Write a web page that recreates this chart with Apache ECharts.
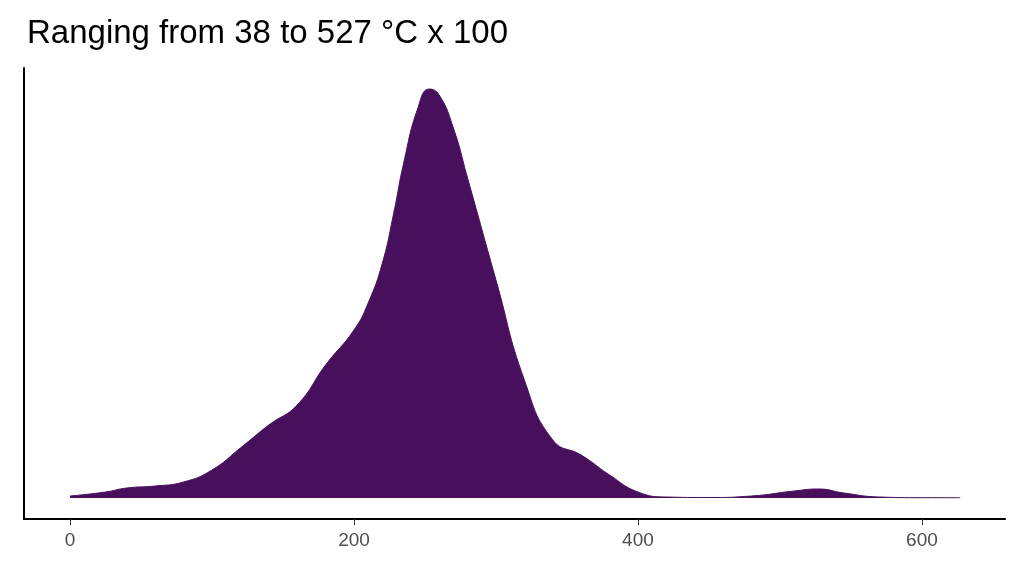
<!DOCTYPE html><html><head><meta charset="utf-8"><script src="https://cdn.jsdelivr.net/npm/echarts@6/dist/echarts.min.js"></script></head><body style="margin:0"><div id="c" style="width:1024px;height:576px"></div><script>
const xs=[0,25,40,60,80,100,120,140,160,180,200,210,220,228,235,245,253,260,270,280,300,320,340,360,380,400,420,450,480,510,527,545,570,600,627];
const ys=[2,6,10,12,16,28,50,73,93,133,168,195,235,285,335,390,409,403,370,320,218,118,58,43,23,6,1,0.5,2,7,9,5,1,0.3,0.3];
const xTicks=[0,200,400,600];
const chart=echarts.init(document.getElementById('c'));
chart.setOption({
title:{text:'Ranging from 38 to 527 °C x 100',left:22,top:12,textStyle:{fontFamily:'Liberation Sans',fontSize:33,fontWeight:'normal',color:'#000'}},
grid:{left:24,right:19,top:68,bottom:57},
xAxis:{type:'value',min:-32.4,max:658.5,interval:200,
axisLine:{onZero:false,lineStyle:{color:'#000',width:2}},
splitLine:{show:false},
axisLabel:{color:'#4d4d4d',fontSize:19,fontFamily:'Liberation Sans',margin:12,customValues:xTicks},
axisTick:{customValues:xTicks,length:6,lineStyle:{color:'#333'}}},
yAxis:{type:'value',min:-21,max:430,axisLine:{show:true,onZero:false,lineStyle:{color:'#000',width:2}},axisLabel:{show:false},axisTick:{show:false},splitLine:{show:false}},
series:[{type:'line',data:xs.map((x,i)=>[x,ys[i]]),smooth:0.5,symbol:'none',lineStyle:{color:'#480f5c',width:1},areaStyle:{color:'#480f5c',opacity:1,origin:0}}]
});
</script></body></html>
